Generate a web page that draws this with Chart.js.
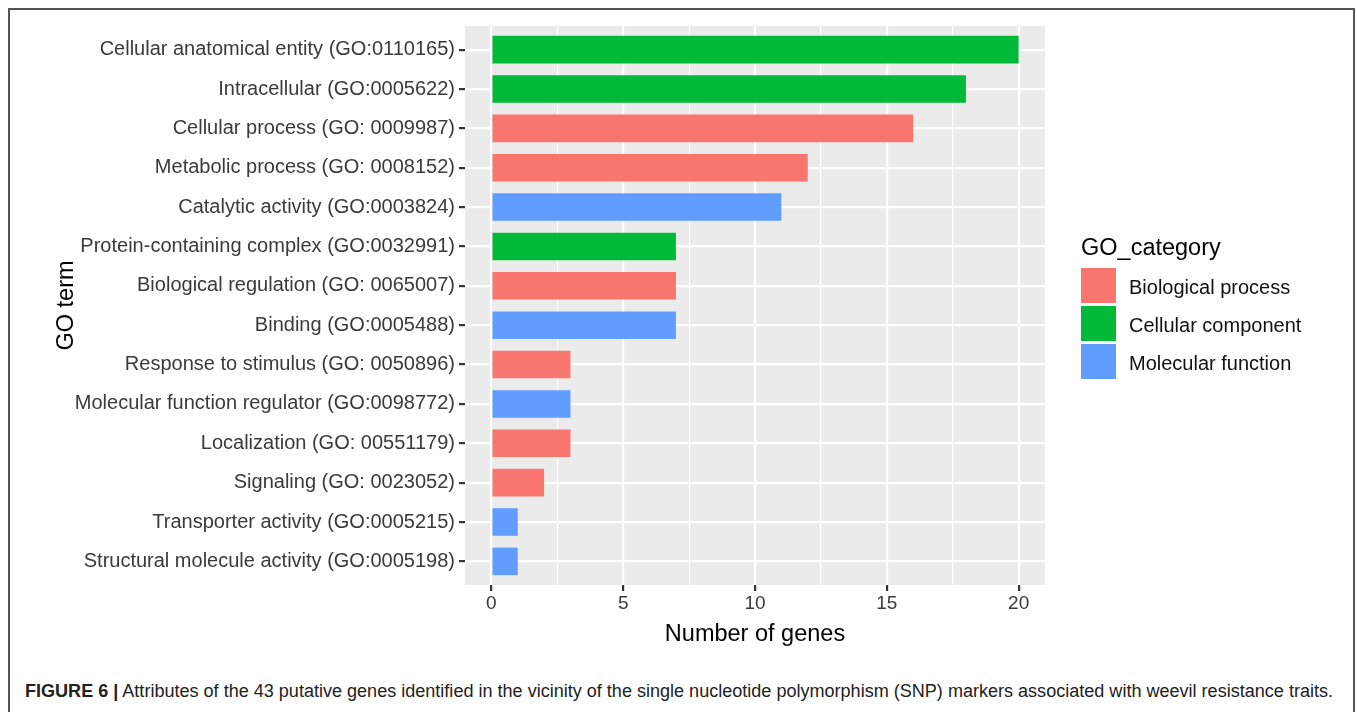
<!DOCTYPE html>
<html>
<head>
<meta charset="utf-8">
<script src="https://cdn.jsdelivr.net/npm/chart.js@4.4.0/dist/chart.umd.min.js"></script>
<style>
  html, body { margin: 0; padding: 0; background: #fff; }
  body { width: 1357px; height: 712px; position: relative; overflow: hidden; font-family: "Liberation Sans", Arial, sans-serif; }
  #frame { position: absolute; left: 8px; top: 8px; width: 1347px; height: 740px; border: 2px solid #555; border-bottom: none; box-sizing: border-box; }
  #chartBox { position: absolute; left: 0; top: 0; width: 1357px; height: 680px; }
  #legend { position: absolute; left: 1081px; top: 232px; color: #111; }
  #legend .ttl { font-size: 23.5px; line-height: 30px; margin-bottom: 4px; color: #000; }
  #legend .row { display: flex; align-items: center; height: 38px; }
  #legend .key { width: 35px; height: 35px; margin-right: 13px; }
  #legend .lbl { font-size: 20px; padding-top: 4px; }
  #caption { position: absolute; left: 25px; top: 681px; white-space: nowrap; transform-origin: 0 0;
             font-family: "Liberation Sans Narrow", "Liberation Sans", Arial, sans-serif; font-size: 18px; color: #222; }
</style>
</head>
<body>
<div id="frame"></div>
<div id="chartBox"><canvas id="myChart"></canvas></div>
<div id="legend"></div>
<div id="caption"><b>FIGURE 6 |</b> Attributes of the 43 putative genes identified in the vicinity of the single nucleotide polymorphism (SNP) markers associated with weevil resistance traits.</div>
<script>
const terms = [
    'Cellular anatomical entity (GO:0110165)',
    'Intracellular (GO:0005622)',
    'Cellular process (GO: 0009987)',
    'Metabolic process (GO: 0008152)',
    'Catalytic activity (GO:0003824)',
    'Protein-containing complex (GO:0032991)',
    'Biological regulation (GO: 0065007)',
    'Binding (GO:0005488)',
    'Response to stimulus (GO: 0050896)',
    'Molecular function regulator (GO:0098772)',
    'Localization (GO: 00551179)',
    'Signaling (GO: 0023052)',
    'Transporter activity (GO:0005215)',
    'Structural molecule activity (GO:0005198)'
];
const geneCounts = [20, 18, 16, 12, 11, 7, 7, 7, 3, 3, 3, 2, 1, 1];
const termCategory = [
    'Cellular component', 'Cellular component', 'Biological process', 'Biological process',
    'Molecular function', 'Cellular component', 'Biological process', 'Molecular function',
    'Biological process', 'Molecular function', 'Biological process', 'Biological process',
    'Molecular function', 'Molecular function'
];
const categories = ['Biological process', 'Cellular component', 'Molecular function'];
const categoryColors = ['#F8766D', '#00BA38', '#619CFF'];
const majorTicks = [0, 5, 10, 15, 20];
const minorTicks = [2.5, 7.5, 12.5, 17.5];

Chart.defaults.font.family = '"Liberation Sans", Arial, sans-serif';

// grey ggplot panel behind the grid
const panelBg = {
    id: 'panelBg',
    beforeDraw(chart) {
        const {ctx, chartArea: a} = chart;
        ctx.save();
        ctx.fillStyle = '#EBEBEB';
        ctx.fillRect(a.left, a.top, a.right - a.left, a.bottom - a.top);
        ctx.restore();
    }
};

function GetData(cat) {
    let arr = [];
    terms.forEach((t, i) => {
        if (termCategory[i] === cat) arr.push({x: geneCounts[i], y: i});
    });
    return arr;
}

const datasets = categories.map((cat, k) => ({
    label: cat,
    data: GetData(cat),
    backgroundColor: categoryColors[k],
    borderWidth: 0,
    grouped: false,
    barPercentage: 0.7,
    categoryPercentage: 1
}));

const isMajor = v => majorTicks.includes(v);

new Chart(document.getElementById('myChart'), {
    type: 'bar',
    data: { datasets: datasets },
    plugins: [panelBg],
    options: {
        indexAxis: 'y',
        responsive: true,
        maintainAspectRatio: false,
        animation: false,
        layout: { padding: { left: 52, top: 26, right: 312, bottom: 31 } },
        plugins: { legend: { display: false }, tooltip: { enabled: false } },
        scales: {
            x: {
                type: 'linear', min: -1, max: 21,
                afterBuildTicks: s => {
                    s.ticks = majorTicks.concat(minorTicks).sort((a, b) => a - b).map(v => ({value: v}));
                },
                grid: {
                    color: '#fff',
                    lineWidth: c => isMajor(c.tick.value) ? 2.2 : 1.1,
                    tickColor: c => isMajor(c.tick.value) ? '#333' : 'rgba(0,0,0,0)',
                    tickLength: 6
                },
                border: { display: false },
                ticks: {
                    color: '#3a3a3a', font: { size: 19 }, padding: 1, autoSkip: false, maxRotation: 0,
                    callback: v => isMajor(v) ? String(v) : ''
                },
                title: { display: true, text: 'Number of genes', color: '#000', font: { size: 23.5 }, padding: { top: 5, bottom: 0 } }
            },
            y: {
                type: 'linear', reverse: true, min: -0.6, max: 13.6, offset: false,
                afterBuildTicks: s => { s.ticks = terms.map((t, i) => ({value: i})); },
                afterFit: s => { s.width = 413; },
                grid: { color: '#fff', lineWidth: 2.2, tickColor: '#333', tickLength: 6, offset: false },
                border: { display: false },
                ticks: { color: '#3a3a3a', font: { size: 20 }, padding: 4, autoSkip: false, callback: v => terms[v] },
                title: { display: true, text: 'GO term', color: '#000', font: { size: 23.5 }, padding: 0 }
            }
        }
    }
});

// legend like ggplot
let html = '<div class="ttl">GO_category</div>';
categories.forEach((cat, k) => {
    html += '<div class="row"><div class="key" style="background:' + categoryColors[k] + '"></div><div class="lbl">' + cat + '</div></div>';
});
document.getElementById('legend').innerHTML = html;

// squeeze caption to the width it has in the figure
const cap = document.getElementById('caption');
const w = cap.getBoundingClientRect().width;
cap.style.transform = 'scaleX(' + (1308 / w) + ')';
</script>
</body>
</html>
